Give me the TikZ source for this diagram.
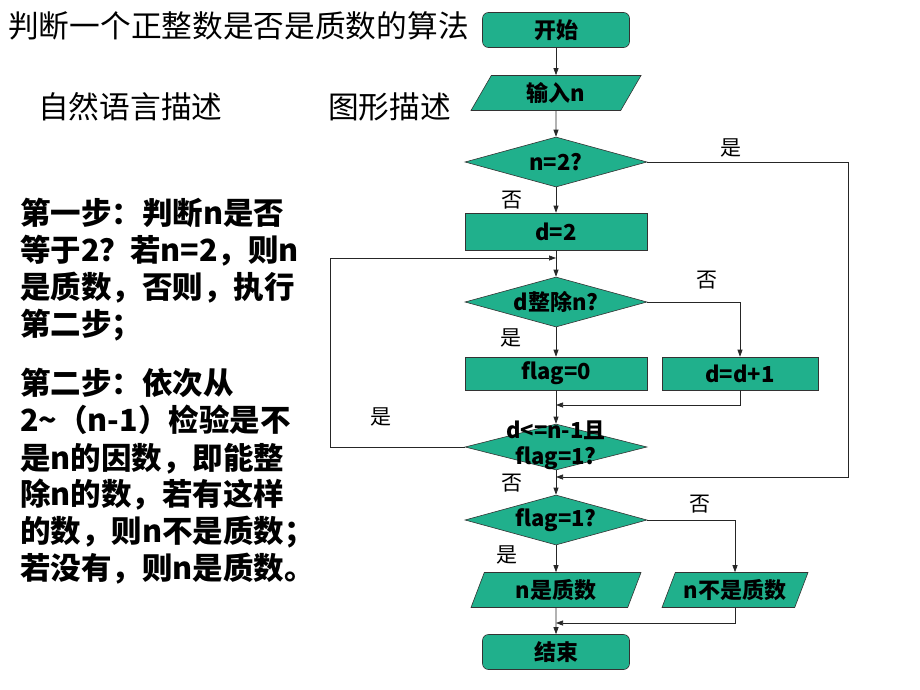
\documentclass[tikz,border=0pt]{standalone}
\usepackage{fontspec}
\setmainfont{Noto Sans CJK SC}
\usetikzlibrary{shapes.geometric,arrows.meta}

\definecolor{flowgreen}{RGB}{32,176,140}

\tikzset{
  block/.style={draw=black!80, fill=flowgreen, line width=0.6pt,
    font=\fontsize{22}{24}\selectfont\bfseries,
    minimum width=182pt, minimum height=36pt, inner sep=0pt},
  term/.style={block, rounded corners=6pt, minimum width=147pt, minimum height=35pt},
  io/.style={block, trapezium, trapezium stretches body,
    trapezium left angle=46, trapezium right angle=134,
    minimum width=170pt, minimum height=35pt},
  test/.style={block, diamond, aspect=3.6, minimum height=50pt},
  flow/.style={->, draw=black!85, line width=0.7pt},
  tag/.style={font=\fontsize{21}{21}\selectfont},
  heading/.style={font=\fontsize{30.7}{31}\selectfont, inner sep=0pt, anchor=base west},
  steptext/.style={font=\fontsize{30.5}{31}\selectfont\bfseries, inner sep=0pt, anchor=base west}
}

\begin{document}
\begin{tikzpicture}[x=1pt, y=-1pt, >={Triangle[length=7pt,width=5pt]}]
  \useasboundingbox (0,0) rectangle (920,690);

  % headings
  \node[heading] (title) at (8,38) {判断一个正整数是否是质数的算法};
  \node[heading] (natural) at (38,119) {自然语言描述};
  \node[heading] (graphic) at (328,119) {图形描述};

  % natural language steps
  \foreach \ly/\lt [count=\i] in {
      224/{第一步：判断n是否},
      261/{等于2？若n=2，则n},
      298/{是质数，否则，执行},
      335/{第二步；},
      394/{第二步：依次从},
      431/{2\textasciitilde（n-1）检验是不},
      469/{是n的因数，即能整},
      505/{除n的数，若有这样},
      542/{的数，则n不是质数；},
      579/{若没有，则n是质数。}}
    \node[steptext] (line\i) at (20,\ly) {\lt};

  % flowchart
  \node[term] (start) at (556,30) {开始};
  \node[io] (input) at (556,93) {输入n};
  \node[test] (isTwo) at (556,162) {n=2?};
  \node[block, minimum height=37pt] (init) at (556,231.5) {d=2};
  \node[test] (divides) at (556,302) {d整除n?};
  \node[block, minimum height=33pt] (zero) at (556,373.5) {flag=0};
  \node[block, minimum width=156pt, minimum height=33pt] (inc) at (740,373.5) {d=d+1};
  \node[test, minimum height=46pt] (more) at (556,447) {};
  \node[test] (last) at (556,520) {flag=1?};
  \node[io, trapezium left angle=58, trapezium right angle=122] (prime) at (556,590) {n是质数};
  \node[io, trapezium left angle=58, trapezium right angle=122,
    minimum width=146pt] (notprime) at (735,590) {n不是质数};
  \node[term] (stop) at (556,652) {结束};

  \coordinate (joinInc) at (556,405);
  \coordinate (loopLeft) at (330,258);
  \coordinate (loopTop) at (556,258);
  \coordinate (farRight) at (848,477);
  \coordinate (joinYes) at (556,477);
  \coordinate (joinEnd) at (556,623);

  \draw[flow] (start) -- (input);
  \draw[flow] (input) -- (isTwo);
  \draw[flow] (isTwo) -- (init);
  \draw[flow] (init) -- (divides);
  \draw[flow] (divides.east) -| (inc.north);
  \draw[flow] (divides) -- (zero);
  \draw[flow] (zero) -- (more);
  \draw[flow] (inc.south) |- (joinInc);
  \draw[flow] (more.west) -| (loopLeft) -- (loopTop);
  \draw[flow] (isTwo.east) -| (farRight) -- (joinYes);
  \draw[flow] (more) -- (last);
  \draw[flow] (last.east) -| (notprime.north);
  \draw[flow] (last) -- (prime);
  \draw[flow] (prime) -- (stop);
  \draw[flow] (notprime.south) |- (joinEnd);

  \node[font=\fontsize{22}{26}\selectfont\bfseries, align=center, inner sep=0pt]
    (moretext) at (556,445) {d<=n-1且\\flag=1?};

  % branch labels
  \node[tag] (yesTwo) at (731,148) {是};
  \node[tag] (noTwo) at (512,200) {否};
  \node[tag] (noDiv) at (707,280) {否};
  \node[tag] (yesDiv) at (511,338) {是};
  \node[tag] (yesMore) at (381,417) {是};
  \node[tag] (noMore) at (512,483) {否};
  \node[tag] (noLast) at (700,504) {否};
  \node[tag] (yesLast) at (507,555) {是};
\end{tikzpicture}
\end{document}
